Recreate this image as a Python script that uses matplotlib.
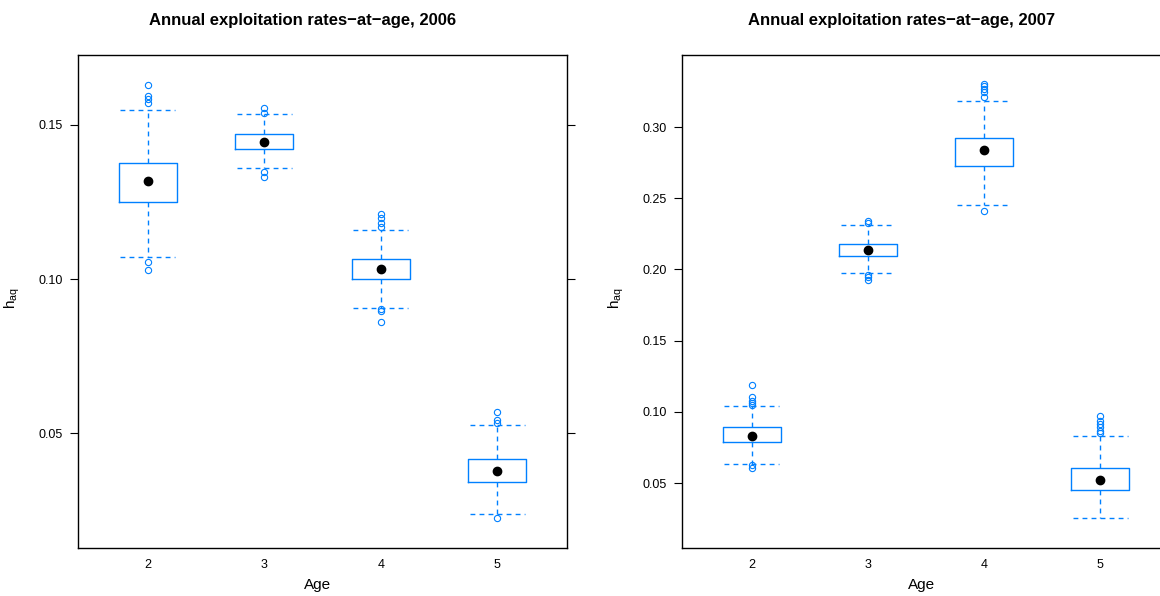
# boxplots of annual exploitation rates-at-age, 2006 and 2007
import matplotlib
matplotlib.use('Agg')
import matplotlib.pyplot as plt
from matplotlib.ticker import FormatStrFormatter

plt.rcParams['font.family'] = ['Liberation Sans', 'DejaVu Sans']
plt.rcParams['mathtext.fontset'] = 'custom'
plt.rcParams['mathtext.rm'] = 'Liberation Sans'
plt.rcParams['mathtext.it'] = 'Liberation Sans'

ages = [2, 3, 4, 5]

# 2006
med_2006 = [0.1317, 0.1445, 0.1032, 0.0376]
q1_2006 = [0.1250, 0.1422, 0.0999, 0.0342]
q3_2006 = [0.1376, 0.1469, 0.1064, 0.0417]
lo_2006 = [0.1070, 0.1359, 0.0905, 0.0236]
hi_2006 = [0.1548, 0.1536, 0.1159, 0.0525]
out_2006 = [
    [0.1630, 0.1595, 0.1583, 0.1570, 0.1054, 0.1028],
    [0.1554, 0.1538, 0.1348, 0.1332],
    [0.1211, 0.1197, 0.1183, 0.1170, 0.0903, 0.0897, 0.0859],
    [0.0569, 0.0542, 0.0534, 0.0223],
]

# 2007
med_2007 = [0.0829, 0.2140, 0.2837, 0.0520]
q1_2007 = [0.0787, 0.2098, 0.2729, 0.0450]
q3_2007 = [0.0892, 0.2182, 0.2921, 0.0607]
lo_2007 = [0.0632, 0.1974, 0.2451, 0.0254]
hi_2007 = [0.1041, 0.2309, 0.3180, 0.0829]
out_2007 = [
    [0.1187, 0.1107, 0.1076, 0.1060, 0.1046, 0.0628, 0.0609],
    [0.2341, 0.2323, 0.1962, 0.1946, 0.1925],
    [0.3304, 0.3285, 0.3266, 0.3248, 0.3213, 0.2414],
    [0.0971, 0.0938, 0.0915, 0.0892, 0.0868, 0.0850],
]

BLUE = '#0080ff'


def panel(ax, med, q1, q3, lo, hi, out, ylim, yticks, title_x, title):
    stats = []
    for i in range(len(ages)):
        stats.append(dict(med=med[i], q1=q1[i], q3=q3[i],
                          whislo=lo[i], whishi=hi[i], fliers=out[i]))
    dash = dict(color=BLUE, lw=1, ls=(0, (3.5, 3)))
    ax.bxp(stats, positions=ages, widths=0.5, capwidths=0.47,
           boxprops=dict(color=BLUE, lw=1),
           whiskerprops=dash, capprops=dash,
           flierprops=dict(marker='o', mfc='none', mec=BLUE, ms=4.5, mew=0.8),
           medianprops=dict(visible=False))
    ax.plot(ages, med, 'o', color='black', ms=6)

    ax.set_xlim(1.4, 5.6)
    ax.set_ylim(*ylim)
    ax.set_xticks(ages)
    ax.set_xticklabels([str(a) for a in ages])
    ax.set_yticks(yticks)
    ax.yaxis.set_major_formatter(FormatStrFormatter('%.2f'))
    ax.tick_params(axis='x', length=0, pad=8, labelsize=9)
    ax.tick_params(axis='y', left=True, right=True, direction='out',
                   length=6, pad=5, labelsize=9)
    for s in ax.spines.values():
        s.set_linewidth(1)

    ax.set_xlabel('Age', fontsize=11)
    ax.xaxis.set_label_coords(0.49, -0.061)
    ax.set_ylabel(r'$\mathrm{h}_{\mathrm{aq}}$', fontsize=11)
    ax.yaxis.set_label_coords(-0.114, 0.507)
    ax.figure.text(title_x, 1 - 20 / 596, title, ha='center', va='center',
                   fontsize=12, fontweight='bold')


def main():
    fig = plt.figure(figsize=(11.6, 5.96), dpi=100)
    ax1 = fig.add_axes([78 / 1160, 48 / 596, 489 / 1160, 493 / 596])
    ax2 = fig.add_axes([682 / 1160, 48 / 596, 488 / 1160, 493 / 596])

    panel(ax1, med_2006, q1_2006, q3_2006, lo_2006, hi_2006, out_2006,
          (0.0127, 0.1727), [0.05, 0.10, 0.15], 303 / 1160,
          'Annual exploitation rates\u2212at\u2212age, 2006')
    panel(ax2, med_2007, q1_2007, q3_2007, lo_2007, hi_2007, out_2007,
          (0.0044, 0.3506), [0.05, 0.10, 0.15, 0.20, 0.25, 0.30], 902 / 1160,
          'Annual exploitation rates\u2212at\u2212age, 2007')

    fig.savefig('out.png', dpi=100)


if __name__ == '__main__':
    main()
